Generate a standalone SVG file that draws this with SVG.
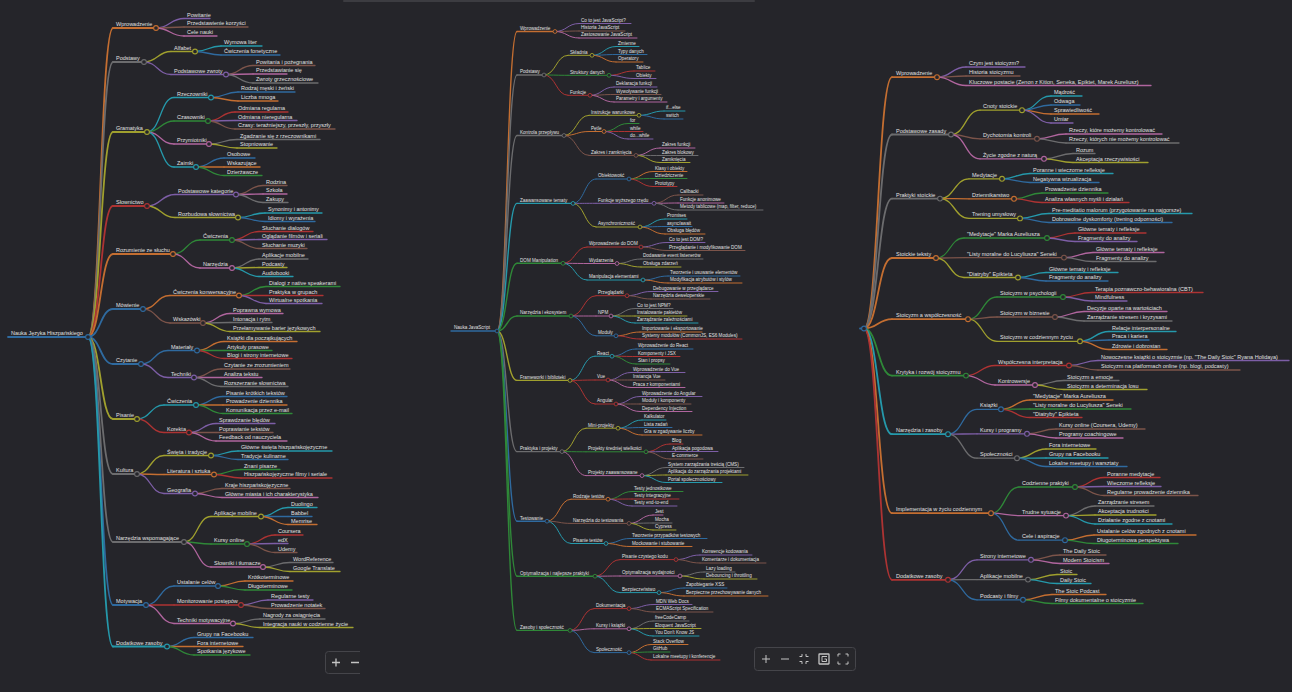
<svg xmlns="http://www.w3.org/2000/svg" width="1292" height="692" viewBox="0 0 1292 692">
<style>
.bl{stroke:#2f6a9f}.or{stroke:#c46e31}.gr{stroke:#2f8838}.rd{stroke:#ad3333}.pu{stroke:#7d5ea6}.br{stroke:#7c544a}.pk{stroke:#b0659e}.gy{stroke:#6c6c6e}.ol{stroke:#a0a02e}.cy{stroke:#2599ab}
path{fill:none;stroke-width:1.3;stroke-linecap:round}
circle{fill:#25252a;stroke-width:1.1}
text{fill:#e0e0e0;stroke:none;font-family:"Liberation Sans",Arial,sans-serif;font-size:5.5px}
#mid text{font-size:4.6px}
#mid path{stroke-width:1}
.t{stroke-width:1.8}
#mid .t{stroke-width:1.4}
#mid circle{stroke-width:0.9}
.ctl rect{fill:#27272b;stroke:#45454a;stroke-width:1}
.ctl path{stroke:#c4c4c4;stroke-width:1.3;stroke-linecap:butt}
</style>
<defs><clipPath id="clipL"><rect x="0" y="0" width="360" height="692"/></clipPath></defs>
<rect x="0" y="0" width="1292" height="692" fill="#25252a"/>
<rect x="343" y="0" width="412" height="2" rx="1" fill="#3c3c41"/>

<g id="left">
<g id="left-connectors">
<path class="or t" d="M88 337C100.5 337 100.5 28 113 28"/>
<path class="gy t" d="M88 337C100.5 337 100.5 62 113 62"/>
<path class="ol t" d="M88 337C100.5 337 100.5 132 113 132"/>
<path class="rd t" d="M88 337C100.5 337 100.5 206 113 206"/>
<path class="or t" d="M88 337C100.5 337 100.5 254 113 254"/>
<path class="bl t" d="M88 337C100.5 337 100.5 309 113 309"/>
<path class="bl t" d="M88 337C100.5 337 100.5 364 113 364"/>
<path class="ol t" d="M88 337C100.5 337 100.5 419 113 419"/>
<path class="gy t" d="M88 337C100.5 337 100.5 474 113 474"/>
<path class="gy t" d="M88 337C100.5 337 100.5 542 113 542"/>
<path class="bl t" d="M88 337C100.5 337 100.5 605 113 605"/>
<path class="cy t" d="M88 337C100.5 337 100.5 646.5 113 646.5"/>
<path class="pu" d="M156 28C170 28 170 18.5 184 18.5"/>
<path class="br" d="M156 28C170 28 170 27 184 27"/>
<path class="pk" d="M156 28C170 28 170 36 184 36"/>
<path class="ol" d="M144 62C157.5 62 157.5 51.5 171 51.5"/>
<path class="pu" d="M144 62C157.5 62 157.5 74.5 171 74.5"/>
<path class="cy" d="M195 51.5C208 51.5 208 46 221 46"/>
<path class="bl" d="M195 51.5C208 51.5 208 55 221 55"/>
<path class="br" d="M226 74.5C239.5 74.5 239.5 65.5 253 65.5"/>
<path class="pk" d="M226 74.5C239.5 74.5 239.5 74 253 74"/>
<path class="gy" d="M226 74.5C239.5 74.5 239.5 83 253 83"/>
<path class="cy" d="M147 132C160.5 132 160.5 97.5 174 97.5"/>
<path class="gr" d="M147 132C160.5 132 160.5 121 174 121"/>
<path class="pk" d="M147 132C160.5 132 160.5 144 174 144"/>
<path class="cy" d="M147 132C160.5 132 160.5 167 174 167"/>
<path class="bl" d="M211 97.5C224.5 97.5 224.5 92 238 92"/>
<path class="or" d="M211 97.5C224.5 97.5 224.5 101 238 101"/>
<path class="rd" d="M208 121C221.5 121 221.5 112 235 112"/>
<path class="pu" d="M208 121C221.5 121 221.5 120.5 235 120.5"/>
<path class="br" d="M208 121C221.5 121 221.5 129 235 129"/>
<path class="gy" d="M209 144C223 144 223 139.5 237 139.5"/>
<path class="ol" d="M209 144C223 144 223 148 237 148"/>
<path class="bl" d="M196 167C210 167 210 158 224 158"/>
<path class="or" d="M196 167C210 167 210 167 224 167"/>
<path class="gr" d="M196 167C210 167 210 175.5 224 175.5"/>
<path class="pu" d="M147 206C161 206 161 194.5 175 194.5"/>
<path class="ol" d="M147 206C161 206 161 217.5 175 217.5"/>
<path class="br" d="M236 194.5C249.5 194.5 249.5 185.5 263 185.5"/>
<path class="pk" d="M236 194.5C249.5 194.5 249.5 194 263 194"/>
<path class="gy" d="M236 194.5C249.5 194.5 249.5 202.5 263 202.5"/>
<path class="cy" d="M238 217.5C251.5 217.5 251.5 213 265 213"/>
<path class="bl" d="M238 217.5C251.5 217.5 251.5 221.5 265 221.5"/>
<path class="gr" d="M173 254C186.5 254 186.5 240 200 240"/>
<path class="pk" d="M173 254C186.5 254 186.5 268 200 268"/>
<path class="rd" d="M232 240C245.5 240 245.5 231.5 259 231.5"/>
<path class="pu" d="M232 240C245.5 240 245.5 239.5 259 239.5"/>
<path class="br" d="M232 240C245.5 240 245.5 248.5 259 248.5"/>
<path class="gy" d="M232 268C245.5 268 245.5 259 259 259"/>
<path class="ol" d="M232 268C245.5 268 245.5 267.5 259 267.5"/>
<path class="cy" d="M232 268C245.5 268 245.5 276.5 259 276.5"/>
<path class="or" d="M143 309C156.5 309 156.5 295.5 170 295.5"/>
<path class="br" d="M143 309C156.5 309 156.5 323 170 323"/>
<path class="gr" d="M239 295.5C252.5 295.5 252.5 286.5 266 286.5"/>
<path class="rd" d="M239 295.5C252.5 295.5 252.5 295.5 266 295.5"/>
<path class="pu" d="M239 295.5C252.5 295.5 252.5 303.5 266 303.5"/>
<path class="pk" d="M203 323C216.5 323 216.5 313.5 230 313.5"/>
<path class="gy" d="M203 323C216.5 323 216.5 322.5 230 322.5"/>
<path class="ol" d="M203 323C216.5 323 216.5 331.5 230 331.5"/>
<path class="bl" d="M141 364C154.5 364 154.5 350.5 168 350.5"/>
<path class="pu" d="M141 364C154.5 364 154.5 377.5 168 377.5"/>
<path class="or" d="M197 350.5C210.5 350.5 210.5 341.5 224 341.5"/>
<path class="gr" d="M197 350.5C210.5 350.5 210.5 350.5 224 350.5"/>
<path class="rd" d="M197 350.5C210.5 350.5 210.5 358.5 224 358.5"/>
<path class="br" d="M194 377.5C207.5 377.5 207.5 369 221 369"/>
<path class="pk" d="M194 377.5C207.5 377.5 207.5 377.5 221 377.5"/>
<path class="gy" d="M194 377.5C207.5 377.5 207.5 386.5 221 386.5"/>
<path class="cy" d="M137 419C150.5 419 150.5 405 164 405"/>
<path class="rd" d="M137 419C150.5 419 150.5 432.5 164 432.5"/>
<path class="bl" d="M196 405C209.5 405 209.5 396.5 223 396.5"/>
<path class="or" d="M196 405C209.5 405 209.5 405 223 405"/>
<path class="gr" d="M196 405C209.5 405 209.5 413.5 223 413.5"/>
<path class="pu" d="M189 432.5C202.5 432.5 202.5 423.5 216 423.5"/>
<path class="br" d="M189 432.5C202.5 432.5 202.5 432.5 216 432.5"/>
<path class="pk" d="M189 432.5C202.5 432.5 202.5 441 216 441"/>
<path class="ol" d="M137 474C150.5 474 150.5 455.5 164 455.5"/>
<path class="or" d="M137 474C150.5 474 150.5 474.5 164 474.5"/>
<path class="pu" d="M137 474C150.5 474 150.5 493.5 164 493.5"/>
<path class="cy" d="M211 455.5C224.5 455.5 224.5 451 238 451"/>
<path class="bl" d="M211 455.5C224.5 455.5 224.5 459.5 238 459.5"/>
<path class="gr" d="M214 474.5C227.5 474.5 227.5 469.5 241 469.5"/>
<path class="rd" d="M214 474.5C227.5 474.5 227.5 478 241 478"/>
<path class="br" d="M195 493.5C208.5 493.5 208.5 488.5 222 488.5"/>
<path class="pk" d="M195 493.5C208.5 493.5 208.5 497.5 222 497.5"/>
<path class="ol" d="M184 542C197.5 542 197.5 516.5 211 516.5"/>
<path class="gr" d="M184 542C197.5 542 197.5 544 211 544"/>
<path class="pk" d="M184 542C197.5 542 197.5 567 211 567"/>
<path class="cy" d="M261 516.5C274.5 516.5 274.5 507.5 288 507.5"/>
<path class="bl" d="M261 516.5C274.5 516.5 274.5 516.5 288 516.5"/>
<path class="or" d="M261 516.5C274.5 516.5 274.5 524.5 288 524.5"/>
<path class="rd" d="M247 544C261 544 261 535 275 535"/>
<path class="pu" d="M247 544C261 544 261 543.5 275 543.5"/>
<path class="br" d="M247 544C261 544 261 552.5 275 552.5"/>
<path class="gy" d="M263 567C276.5 567 276.5 562.5 290 562.5"/>
<path class="ol" d="M263 567C276.5 567 276.5 571.5 290 571.5"/>
<path class="bl" d="M146 605C160 605 160 586 174 586"/>
<path class="rd" d="M146 605C160 605 160 605 174 605"/>
<path class="pk" d="M146 605C160 605 160 623.5 174 623.5"/>
<path class="or" d="M218 586C231.5 586 231.5 581 245 581"/>
<path class="gr" d="M218 586C231.5 586 231.5 590 245 590"/>
<path class="pu" d="M241 605C254.5 605 254.5 600 268 600"/>
<path class="br" d="M241 605C254.5 605 254.5 608.5 268 608.5"/>
<path class="gy" d="M233 623.5C246.5 623.5 246.5 619 260 619"/>
<path class="ol" d="M233 623.5C246.5 623.5 246.5 627.5 260 627.5"/>
<path class="bl" d="M167 646.5C180.5 646.5 180.5 637.5 194 637.5"/>
<path class="or" d="M167 646.5C180.5 646.5 180.5 646.5 194 646.5"/>
<path class="gr" d="M167 646.5C180.5 646.5 180.5 655 194 655"/>
</g>
<g id="L0" class="bl"><path class="t" d="M8 337H88"/><text x="11" y="335">Nauka Języka Hiszpańskiego</text><circle cx="88" cy="337" r="2.4"/></g>
<g id="L1" class="or"><path class="t" d="M113 28H156"/><text x="116" y="26">Wprowadzenie</text><circle cx="156" cy="28" r="2.4"/></g>
<g id="L1a" class="pu"><path d="M184 18.5H210"/><text x="187" y="16.5">Powitanie</text></g>
<g id="L1b" class="br"><path d="M184 27H248"/><text x="187" y="25">Przedstawienie korzyści</text></g>
<g id="L1c" class="pk"><path d="M184 36H217"/><text x="187" y="34">Cele nauki</text></g>
<g id="L2" class="gy"><path class="t" d="M113 62H144"/><text x="116" y="60">Podstawy</text><circle cx="144" cy="62" r="2.4"/></g>
<g id="L2a" class="ol"><path d="M171 51.5H195"/><text x="174" y="49.5">Alfabet</text><circle cx="195" cy="51.5" r="2.4"/></g>
<g id="L2a1" class="cy"><path d="M221 46H262"/><text x="224" y="44">Wymowa liter</text></g>
<g id="L2a2" class="bl"><path d="M221 55H280"/><text x="224" y="53">Ćwiczenia fonetyczne</text></g>
<g id="L2b" class="pu"><path d="M171 74.5H226"/><text x="174" y="72.5">Podstawowe zwroty</text><circle cx="226" cy="74.5" r="2.4"/></g>
<g id="L2b1" class="br"><path d="M253 65.5H315"/><text x="256" y="63.5">Powitania i pożegnania</text></g>
<g id="L2b2" class="pk"><path d="M253 74H287"/><text x="256" y="72">Przedstawianie się</text></g>
<g id="L2b3" class="gy"><path d="M253 83H318"/><text x="256" y="81">Zwroty grzecznościowe</text></g>
<g id="L3" class="ol"><path class="t" d="M113 132H147"/><text x="116" y="130">Gramatyka</text><circle cx="147" cy="132" r="2.4"/></g>
<g id="L3a" class="cy"><path d="M174 97.5H211"/><text x="177" y="95.5">Rzeczowniki</text><circle cx="211" cy="97.5" r="2.4"/></g>
<g id="L3a1" class="bl"><path d="M238 92H295"/><text x="241" y="90">Rodzaj męski i żeński</text></g>
<g id="L3a2" class="or"><path d="M238 101H278"/><text x="241" y="99">Liczba mnoga</text></g>
<g id="L3b" class="gr"><path d="M174 121H208"/><text x="177" y="119">Czasowniki</text><circle cx="208" cy="121" r="2.4"/></g>
<g id="L3b1" class="rd"><path d="M235 112H288"/><text x="238" y="110">Odmiana regularna</text></g>
<g id="L3b2" class="pu"><path d="M235 120.5H297"/><text x="238" y="118.5">Odmiana nieregularna</text></g>
<g id="L3b3" class="br"><path d="M235 129H335"/><text x="238" y="127">Czasy: teraźniejszy, przeszły, przyszły</text></g>
<g id="L3c" class="pk"><path d="M174 144H209"/><text x="177" y="142">Przymiotniki</text><circle cx="209" cy="144" r="2.4"/></g>
<g id="L3c1" class="gy"><path d="M237 139.5H320"/><text x="240" y="137.5">Zgadzanie się z rzeczownikami</text></g>
<g id="L3c2" class="ol"><path d="M237 148H277"/><text x="240" y="146">Stopniowanie</text></g>
<g id="L3d" class="cy"><path d="M174 167H196"/><text x="177" y="165">Zaimki</text><circle cx="196" cy="167" r="2.4"/></g>
<g id="L3d1" class="bl"><path d="M224 158H255"/><text x="227" y="156">Osobowe</text></g>
<g id="L3d2" class="or"><path d="M224 167H260"/><text x="227" y="165">Wskazujące</text></g>
<g id="L3d3" class="gr"><path d="M224 175.5H262"/><text x="227" y="173.5">Dzierżawcze</text></g>
<g id="L4" class="rd"><path class="t" d="M113 206H147"/><text x="116" y="204">Słownictwo</text><circle cx="147" cy="206" r="2.4"/></g>
<g id="L4a" class="pu"><path d="M175 194.5H236"/><text x="178" y="192.5">Podstawowe kategorie</text><circle cx="236" cy="194.5" r="2.4"/></g>
<g id="L4a1" class="br"><path d="M263 185.5H287"/><text x="266" y="183.5">Rodzina</text></g>
<g id="L4a2" class="pk"><path d="M263 194H287"/><text x="266" y="192">Szkoła</text></g>
<g id="L4a3" class="gy"><path d="M263 202.5H288"/><text x="266" y="200.5">Zakupy</text></g>
<g id="L4b" class="ol"><path d="M175 217.5H238"/><text x="178" y="215.5">Rozbudowa słownictwa</text><circle cx="238" cy="217.5" r="2.4"/></g>
<g id="L4b1" class="cy"><path d="M265 213H322"/><text x="268" y="211">Synonimy i antonimy</text></g>
<g id="L4b2" class="bl"><path d="M265 221.5H315"/><text x="268" y="219.5">Idiomy i wyrażenia</text></g>
<g id="L5" class="or"><path class="t" d="M113 254H173"/><text x="116" y="252">Rozumienie ze słuchu</text><circle cx="173" cy="254" r="2.4"/></g>
<g id="L5a" class="gr"><path d="M200 240H232"/><text x="203" y="238">Ćwiczenia</text><circle cx="232" cy="240" r="2.4"/></g>
<g id="L5a1" class="rd"><path d="M259 231.5H313"/><text x="262" y="229.5">Słuchanie dialogów</text></g>
<g id="L5a2" class="pu"><path d="M259 239.5H327"/><text x="262" y="237.5">Oglądanie filmów i seriali</text></g>
<g id="L5a3" class="br"><path d="M259 248.5H307"/><text x="262" y="246.5">Słuchanie muzyki</text></g>
<g id="L5b" class="pk"><path d="M200 268H232"/><text x="203" y="266">Narzędzia</text><circle cx="232" cy="268" r="2.4"/></g>
<g id="L5b1" class="gy"><path d="M259 259H308"/><text x="262" y="257">Aplikacje mobilne</text></g>
<g id="L5b2" class="ol"><path d="M259 267.5H287"/><text x="262" y="265.5">Podcasty</text></g>
<g id="L5b3" class="cy"><path d="M259 276.5H293"/><text x="262" y="274.5">Audiobooki</text></g>
<g id="L6" class="bl"><path class="t" d="M113 309H143"/><text x="116" y="307">Mówienie</text><circle cx="143" cy="309" r="2.4"/></g>
<g id="L6a" class="or"><path d="M170 295.5H239"/><text x="173" y="293.5">Ćwiczenia konwersacyjne</text><circle cx="239" cy="295.5" r="2.4"/></g>
<g id="L6a1" class="gr"><path d="M266 286.5H340"/><text x="269" y="284.5">Dialogi z native speakerami</text></g>
<g id="L6a2" class="rd"><path d="M266 295.5H323"/><text x="269" y="293.5">Praktyka w grupach</text></g>
<g id="L6a3" class="pu"><path d="M266 303.5H322"/><text x="269" y="301.5">Wirtualne spotkania</text></g>
<g id="L6b" class="br"><path d="M170 323H203"/><text x="173" y="321">Wskazówki</text><circle cx="203" cy="323" r="2.4"/></g>
<g id="L6b1" class="pk"><path d="M230 313.5H283"/><text x="233" y="311.5">Poprawna wymowa</text></g>
<g id="L6b2" class="gy"><path d="M230 322.5H272"/><text x="233" y="320.5">Intonacja i rytm</text></g>
<g id="L6b3" class="ol"><path d="M230 331.5H320"/><text x="233" y="329.5">Przełamywanie barier językowych</text></g>
<g id="L7" class="bl"><path class="t" d="M113 364H141"/><text x="116" y="362">Czytanie</text><circle cx="141" cy="364" r="2.4"/></g>
<g id="L7a" class="bl"><path d="M168 350.5H197"/><text x="171" y="348.5">Materiały</text><circle cx="197" cy="350.5" r="2.4"/></g>
<g id="L7a1" class="or"><path d="M224 341.5H297"/><text x="227" y="339.5">Książki dla początkujących</text></g>
<g id="L7a2" class="gr"><path d="M224 350.5H272"/><text x="227" y="348.5">Artykuły prasowe</text></g>
<g id="L7a3" class="rd"><path d="M224 358.5H292"/><text x="227" y="356.5">Blogi i strony internetowe</text></g>
<g id="L7b" class="pu"><path d="M168 377.5H194"/><text x="171" y="375.5">Techniki</text><circle cx="194" cy="377.5" r="2.4"/></g>
<g id="L7b1" class="br"><path d="M221 369H290"/><text x="224" y="367">Czytanie ze zrozumieniem</text></g>
<g id="L7b2" class="pk"><path d="M221 377.5H262"/><text x="224" y="375.5">Analiza tekstu</text></g>
<g id="L7b3" class="gy"><path d="M221 386.5H288"/><text x="224" y="384.5">Rozszerzanie słownictwa</text></g>
<g id="L8" class="ol"><path class="t" d="M113 419H137"/><text x="116" y="417">Pisanie</text><circle cx="137" cy="419" r="2.4"/></g>
<g id="L8a" class="cy"><path d="M164 405H196"/><text x="167" y="403">Ćwiczenia</text><circle cx="196" cy="405" r="2.4"/></g>
<g id="L8a1" class="bl"><path d="M223 396.5H287"/><text x="226" y="394.5">Pisanie krótkich tekstów</text></g>
<g id="L8a2" class="or"><path d="M223 405H287"/><text x="226" y="403">Prowadzenie dziennika</text></g>
<g id="L8a3" class="gr"><path d="M223 413.5H292"/><text x="226" y="411.5">Komunikacja przez e-mail</text></g>
<g id="L8b" class="rd"><path d="M164 432.5H189"/><text x="167" y="430.5">Korekta</text><circle cx="189" cy="432.5" r="2.4"/></g>
<g id="L8b1" class="pu"><path d="M216 423.5H275"/><text x="219" y="421.5">Sprawdzanie błędów</text></g>
<g id="L8b2" class="br"><path d="M216 432.5H273"/><text x="219" y="430.5">Poprawianie tekstów</text></g>
<g id="L8b3" class="pk"><path d="M216 441H287"/><text x="219" y="439">Feedback od nauczyciela</text></g>
<g id="L9" class="gy"><path class="t" d="M113 474H137"/><text x="116" y="472">Kultura</text><circle cx="137" cy="474" r="2.4"/></g>
<g id="L9a" class="ol"><path d="M164 455.5H211"/><text x="167" y="453.5">Święta i tradycje</text><circle cx="211" cy="455.5" r="2.4"/></g>
<g id="L9a1" class="cy"><path d="M238 451H332"/><text x="241" y="449">Główne święta hiszpańskojęzyczne</text></g>
<g id="L9a2" class="bl"><path d="M238 459.5H288"/><text x="241" y="457.5">Tradycje kulinarne</text></g>
<g id="L9b" class="or"><path d="M164 474.5H214"/><text x="167" y="472.5">Literatura i sztuka</text><circle cx="214" cy="474.5" r="2.4"/></g>
<g id="L9b1" class="gr"><path d="M241 469.5H280"/><text x="244" y="467.5">Znani pisarze</text></g>
<g id="L9b2" class="rd"><path d="M241 478H332"/><text x="244" y="476">Hiszpańskojęzyczne filmy i seriale</text></g>
<g id="L9c" class="pu"><path d="M164 493.5H195"/><text x="167" y="491.5">Geografia</text><circle cx="195" cy="493.5" r="2.4"/></g>
<g id="L9c1" class="br"><path d="M222 488.5H290"/><text x="225" y="486.5">Kraje hiszpańskojęzyczne</text></g>
<g id="L9c2" class="pk"><path d="M222 497.5H318"/><text x="225" y="495.5">Główne miasta i ich charakterystyka</text></g>
<g id="L10" class="gy"><path class="t" d="M113 542H184"/><text x="116" y="540">Narzędzia wspomagające</text><circle cx="184" cy="542" r="2.4"/></g>
<g id="L10a" class="ol"><path d="M211 516.5H261"/><text x="214" y="514.5">Aplikacje mobilne</text><circle cx="261" cy="516.5" r="2.4"/></g>
<g id="L10a1" class="cy"><path d="M288 507.5H317"/><text x="291" y="505.5">Duolingo</text></g>
<g id="L10a2" class="bl"><path d="M288 516.5H312"/><text x="291" y="514.5">Babbel</text></g>
<g id="L10a3" class="or"><path d="M288 524.5H317"/><text x="291" y="522.5">Memrise</text></g>
<g id="L10b" class="gr"><path d="M211 544H247"/><text x="214" y="542">Kursy online</text><circle cx="247" cy="544" r="2.4"/></g>
<g id="L10b1" class="rd"><path d="M275 535H303"/><text x="278" y="533">Coursera</text></g>
<g id="L10b2" class="pu"><path d="M275 543.5H288"/><text x="278" y="541.5">edX</text></g>
<g id="L10b3" class="br"><path d="M275 552.5H297"/><text x="278" y="550.5">Udemy</text></g>
<g id="L10c" class="pk"><path d="M211 567H263"/><text x="214" y="565">Słowniki i tłumacze</text><circle cx="263" cy="567" r="2.4"/></g>
<g id="L10c1" class="gy"><path d="M290 562.5H333"/><text x="293" y="560.5">WordReference</text></g>
<g id="L10c2" class="ol"><path d="M290 571.5H340"/><text x="293" y="569.5">Google Translate</text></g>
<g id="L11" class="bl"><path class="t" d="M113 605H146"/><text x="116" y="603">Motywacja</text><circle cx="146" cy="605" r="2.4"/></g>
<g id="L11a" class="bl"><path d="M174 586H218"/><text x="177" y="584">Ustalanie celów</text><circle cx="218" cy="586" r="2.4"/></g>
<g id="L11a1" class="or"><path d="M245 581H293"/><text x="248" y="579">Krótkoterminowe</text></g>
<g id="L11a2" class="gr"><path d="M245 590H292"/><text x="248" y="588">Długoterminowe</text></g>
<g id="L11b" class="rd"><path d="M174 605H241"/><text x="177" y="603">Monitorowanie postępów</text><circle cx="241" cy="605" r="2.4"/></g>
<g id="L11b1" class="pu"><path d="M268 600H313"/><text x="271" y="598">Regularne testy</text></g>
<g id="L11b2" class="br"><path d="M268 608.5H325"/><text x="271" y="606.5">Prowadzenie notatek</text></g>
<g id="L11c" class="pk"><path d="M174 623.5H233"/><text x="177" y="621.5">Techniki motywacyjne</text><circle cx="233" cy="623.5" r="2.4"/></g>
<g id="L11c1" class="gy"><path d="M260 619H325"/><text x="263" y="617">Nagrody za osiągnięcia</text></g>
<g id="L11c2" class="ol"><path d="M260 627.5H353"/><text x="263" y="625.5">Integracja nauki w codzienne życie</text></g>
<g id="L12" class="cy"><path class="t" d="M113 646.5H167"/><text x="116" y="644.5">Dodatkowe zasoby</text><circle cx="167" cy="646.5" r="2.4"/></g>
<g id="L12a" class="bl"><path d="M194 637.5H253"/><text x="197" y="635.5">Grupy na Facebooku</text></g>
<g id="L12b" class="or"><path d="M194 646.5H243"/><text x="197" y="644.5">Fora internetowe</text></g>
<g id="L12c" class="gr"><path d="M194 655H250"/><text x="197" y="653">Spotkania językowe</text></g>
<g id="left-controls" class="ctl" clip-path="url(#clipL)"><rect x="325.5" y="651.5" width="60" height="22" rx="3"/><path d="M332 662.5h8M336 658.5v8M351 662.5h8"/></g>
</g>

<g id="mid">
<g id="mid-connectors">
<path class="or t" d="M497 331C507 331 507 31.5 517 31.5"/>
<path class="gy t" d="M497 331C507 331 507 75 517 75"/>
<path class="gy t" d="M497 331C507 331 507 135.5 517 135.5"/>
<path class="cy t" d="M497 331C507 331 507 203.4 517 203.4"/>
<path class="gr t" d="M497 331C507 331 507 263.3 517 263.3"/>
<path class="gr t" d="M497 331C507 331 507 316 517 316"/>
<path class="ol t" d="M497 331C507 331 507 380.4 517 380.4"/>
<path class="gy t" d="M497 331C507 331 507 451.6 517 451.6"/>
<path class="bl t" d="M497 331C507 331 507 521.2 517 521.2"/>
<path class="gr t" d="M497 331C507 331 507 576.2 517 576.2"/>
<path class="gr t" d="M497 331C507 331 507 630.4 517 630.4"/>
<path class="pu" d="M555 31.5C567 31.5 567 23.5 579 23.5"/>
<path class="br" d="M555 31.5C567 31.5 567 31 579 31"/>
<path class="pk" d="M555 31.5C567 31.5 567 38 579 38"/>
<path class="ol" d="M544 75C556 75 556 55.3 568 55.3"/>
<path class="gr" d="M544 75C556 75 556 75.3 568 75.3"/>
<path class="rd" d="M544 75C556 75 556 95.3 568 95.3"/>
<path class="cy" d="M592 55.3C604 55.3 604 46.5 616 46.5"/>
<path class="bl" d="M592 55.3C604 55.3 604 54.5 616 54.5"/>
<path class="or" d="M592 55.3C604 55.3 604 62 616 62"/>
<path class="rd" d="M609 75.3C621.5 75.3 621.5 71 634 71"/>
<path class="pu" d="M609 75.3C621.5 75.3 621.5 78.5 634 78.5"/>
<path class="pu" d="M590 95.3C602 95.3 602 87 614 87"/>
<path class="br" d="M590 95.3C602 95.3 602 94.5 614 94.5"/>
<path class="pk" d="M590 95.3C602 95.3 602 102 614 102"/>
<path class="ol" d="M564 135.5C576.5 135.5 576.5 115.3 589 115.3"/>
<path class="or" d="M564 135.5C576.5 135.5 576.5 131.5 589 131.5"/>
<path class="br" d="M564 135.5C576.5 135.5 576.5 155.4 589 155.4"/>
<path class="cy" d="M639 115.3C651.5 115.3 651.5 111 664 111"/>
<path class="bl" d="M639 115.3C651.5 115.3 651.5 119 664 119"/>
<path class="gr" d="M604 131.5C616 131.5 616 123.5 628 123.5"/>
<path class="rd" d="M604 131.5C616 131.5 616 131.5 628 131.5"/>
<path class="pu" d="M604 131.5C616 131.5 616 139 628 139"/>
<path class="pk" d="M636 155.4C648 155.4 648 148 660 148"/>
<path class="gy" d="M636 155.4C648 155.4 648 155.5 660 155.5"/>
<path class="ol" d="M636 155.4C648 155.4 648 162.5 660 162.5"/>
<path class="bl" d="M573 203.4C584.5 203.4 584.5 179 596 179"/>
<path class="pu" d="M573 203.4C584.5 203.4 584.5 203.3 596 203.3"/>
<path class="ol" d="M573 203.4C584.5 203.4 584.5 227 596 227"/>
<path class="or" d="M629 179C641 179 641 171.5 653 171.5"/>
<path class="gr" d="M629 179C641 179 641 178.5 653 178.5"/>
<path class="rd" d="M629 179C641 179 641 186.5 653 186.5"/>
<path class="br" d="M654 203.3C666 203.3 666 195 678 195"/>
<path class="pk" d="M654 203.3C666 203.3 666 203 678 203"/>
<path class="gy" d="M654 203.3C666 203.3 666 210 678 210"/>
<path class="cy" d="M640 227C652.5 227 652.5 219 665 219"/>
<path class="bl" d="M640 227C652.5 227 652.5 226.5 665 226.5"/>
<path class="or" d="M640 227C652.5 227 652.5 234 665 234"/>
<path class="rd" d="M563 263.3C575 263.3 575 247 587 247"/>
<path class="pk" d="M563 263.3C575 263.3 575 263.5 587 263.5"/>
<path class="cy" d="M563 263.3C575 263.3 575 280 587 280"/>
<path class="pu" d="M641 247C654 247 654 242.5 667 242.5"/>
<path class="br" d="M641 247C654 247 654 250.5 667 250.5"/>
<path class="gy" d="M617 263.5C629 263.5 629 259 641 259"/>
<path class="ol" d="M617 263.5C629 263.5 629 267 641 267"/>
<path class="bl" d="M643 280C655.5 280 655.5 276 668 276"/>
<path class="or" d="M643 280C655.5 280 655.5 283 668 283"/>
<path class="rd" d="M571 316C583.5 316 583.5 295.7 596 295.7"/>
<path class="pk" d="M571 316C583.5 316 583.5 316 596 316"/>
<path class="bl" d="M571 316C583.5 316 583.5 335.8 596 335.8"/>
<path class="pu" d="M627 295.7C639 295.7 639 291.5 651 291.5"/>
<path class="br" d="M627 295.7C639 295.7 639 299 651 299"/>
<path class="gy" d="M611 316C623 316 623 308.5 635 308.5"/>
<path class="ol" d="M611 316C623 316 623 316 635 316"/>
<path class="cy" d="M611 316C623 316 623 323 635 323"/>
<path class="or" d="M616 335.8C628 335.8 628 332 640 332"/>
<path class="rd" d="M616 335.8C628 335.8 628 339 640 339"/>
<path class="cy" d="M570 380.4C582.5 380.4 582.5 356.2 595 356.2"/>
<path class="rd" d="M570 380.4C582.5 380.4 582.5 380 595 380"/>
<path class="rd" d="M570 380.4C582.5 380.4 582.5 404 595 404"/>
<path class="bl" d="M612 356.2C624 356.2 624 349 636 349"/>
<path class="rd" d="M612 356.2C624 356.2 624 356.5 636 356.5"/>
<path class="gr" d="M612 356.2C624 356.2 624 364 636 364"/>
<path class="pu" d="M608 380C619.5 380 619.5 372.5 631 372.5"/>
<path class="br" d="M608 380C619.5 380 619.5 380 631 380"/>
<path class="pk" d="M608 380C619.5 380 619.5 387.5 631 387.5"/>
<path class="pu" d="M616 404C628 404 628 396.5 640 396.5"/>
<path class="br" d="M616 404C628 404 628 404 640 404"/>
<path class="pk" d="M616 404C628 404 628 411.5 640 411.5"/>
<path class="ol" d="M562 451.6C574 451.6 574 428.2 586 428.2"/>
<path class="gr" d="M562 451.6C574 451.6 574 451.8 586 451.8"/>
<path class="pk" d="M562 451.6C574 451.6 574 475.6 586 475.6"/>
<path class="cy" d="M618 428.2C630 428.2 630 420 642 420"/>
<path class="bl" d="M618 428.2C630 428.2 630 427.5 642 427.5"/>
<path class="or" d="M618 428.2C630 428.2 630 435 642 435"/>
<path class="rd" d="M646 451.8C658 451.8 658 444 670 444"/>
<path class="pu" d="M646 451.8C658 451.8 658 451.5 670 451.5"/>
<path class="br" d="M646 451.8C658 451.8 658 459 670 459"/>
<path class="gy" d="M642 475.6C654 475.6 654 467.5 666 467.5"/>
<path class="ol" d="M642 475.6C654 475.6 654 475 666 475"/>
<path class="cy" d="M642 475.6C654 475.6 654 482.5 666 482.5"/>
<path class="or" d="M547 521.2C559 521.2 559 499.2 571 499.2"/>
<path class="br" d="M547 521.2C559 521.2 559 523.4 571 523.4"/>
<path class="cy" d="M547 521.2C559 521.2 559 543.5 571 543.5"/>
<path class="gr" d="M608 499.2C620 499.2 620 491.5 632 491.5"/>
<path class="rd" d="M608 499.2C620 499.2 620 499 632 499"/>
<path class="pu" d="M608 499.2C620 499.2 620 506 632 506"/>
<path class="pk" d="M629 523.4C641 523.4 641 515 653 515"/>
<path class="gy" d="M629 523.4C641 523.4 641 523 653 523"/>
<path class="ol" d="M629 523.4C641 523.4 641 530 653 530"/>
<path class="bl" d="M606 543.5C618 543.5 618 538.5 630 538.5"/>
<path class="or" d="M606 543.5C618 543.5 618 546.5 630 546.5"/>
<path class="rd" d="M595 576.2C607.5 576.2 607.5 559.6 620 559.6"/>
<path class="pk" d="M595 576.2C607.5 576.2 607.5 576 620 576"/>
<path class="cy" d="M595 576.2C607.5 576.2 607.5 592.6 620 592.6"/>
<path class="pu" d="M676 559.6C688 559.6 688 555 700 555"/>
<path class="br" d="M676 559.6C688 559.6 688 563 700 563"/>
<path class="gy" d="M680 576C692 576 692 572 704 572"/>
<path class="ol" d="M680 576C692 576 692 579 704 579"/>
<path class="bl" d="M659 592.6C671.5 592.6 671.5 588 684 588"/>
<path class="or" d="M659 592.6C671.5 592.6 671.5 596 684 596"/>
<path class="rd" d="M570 630.4C582 630.4 582 608.6 594 608.6"/>
<path class="pk" d="M570 630.4C582 630.4 582 628.8 594 628.8"/>
<path class="bl" d="M570 630.4C582 630.4 582 652.6 594 652.6"/>
<path class="pu" d="M629 608.6C641.5 608.6 641.5 604.5 654 604.5"/>
<path class="br" d="M629 608.6C641.5 608.6 641.5 612 654 612"/>
<path class="gy" d="M629 628.8C641 628.8 641 621 653 621"/>
<path class="ol" d="M629 628.8C641 628.8 641 628.5 653 628.5"/>
<path class="cy" d="M629 628.8C641 628.8 641 636 653 636"/>
<path class="or" d="M629 652.6C640 652.6 640 644.5 651 644.5"/>
<path class="gr" d="M629 652.6C640 652.6 640 652 651 652"/>
<path class="rd" d="M629 652.6C640 652.6 640 660 651 660"/>
</g>
<g id="M0" class="bl"><path class="t" d="M451 331H497"/><text x="454" y="329.4">Nauka JavaScript</text><circle cx="497" cy="331" r="1.9"/></g>
<g id="M1" class="or"><path class="t" d="M517 31.5H555"/><text x="520" y="29.9">Wprowadzenie</text><circle cx="555" cy="31.5" r="1.9"/></g>
<g id="M1a" class="pu"><path d="M579 23.5H631"/><text x="581" y="21.9">Co to jest JavaScript?</text></g>
<g id="M1b" class="br"><path d="M579 31H625"/><text x="581" y="29.4">Historia JavaScript</text></g>
<g id="M1c" class="pk"><path d="M579 38H637"/><text x="581" y="36.4">Zastosowanie JavaScript</text></g>
<g id="M2" class="gy"><path class="t" d="M517 75H544"/><text x="520" y="73.4">Podstawy</text><circle cx="544" cy="75" r="1.9"/></g>
<g id="M2a" class="ol"><path d="M568 55.3H592"/><text x="570" y="53.7">Składnia</text><circle cx="592" cy="55.3" r="1.9"/></g>
<g id="M2a1" class="cy"><path d="M616 46.5H639"/><text x="618" y="44.9">Zmienne</text></g>
<g id="M2a2" class="bl"><path d="M616 54.5H647"/><text x="618" y="52.9">Typy danych</text></g>
<g id="M2a3" class="or"><path d="M616 62H643"/><text x="618" y="60.4">Operatory</text></g>
<g id="M2b" class="gr"><path d="M568 75.3H609"/><text x="570" y="73.7">Struktury danych</text><circle cx="609" cy="75.3" r="1.9"/></g>
<g id="M2b1" class="rd"><path d="M634 71H655"/><text x="636" y="69.4">Tablice</text></g>
<g id="M2b2" class="pu"><path d="M634 78.5H656"/><text x="636" y="76.9">Obiekty</text></g>
<g id="M2c" class="rd"><path d="M568 95.3H590"/><text x="570" y="93.7">Funkcje</text><circle cx="590" cy="95.3" r="1.9"/></g>
<g id="M2c1" class="pu"><path d="M614 87H657"/><text x="616" y="85.4">Deklaracja funkcji</text></g>
<g id="M2c2" class="br"><path d="M614 94.5H661"/><text x="616" y="92.9">Wywoływanie funkcji</text></g>
<g id="M2c3" class="pk"><path d="M614 102H667"/><text x="616" y="100.4">Parametry i argumenty</text></g>
<g id="M3" class="gy"><path class="t" d="M517 135.5H564"/><text x="520" y="133.9">Kontrola przepływu</text><circle cx="564" cy="135.5" r="1.9"/></g>
<g id="M3a" class="ol"><path d="M589 115.3H639"/><text x="591" y="113.7">Instrukcje warunkowe</text><circle cx="639" cy="115.3" r="1.9"/></g>
<g id="M3a1" class="cy"><path d="M664 111H685"/><text x="666" y="109.4">if...else</text></g>
<g id="M3a2" class="bl"><path d="M664 119H683"/><text x="666" y="117.4">switch</text></g>
<g id="M3b" class="or"><path d="M589 131.5H604"/><text x="591" y="129.9">Pętle</text><circle cx="604" cy="131.5" r="1.9"/></g>
<g id="M3b1" class="gr"><path d="M628 123.5H639"/><text x="630" y="121.9">for</text></g>
<g id="M3b2" class="rd"><path d="M628 131.5H643"/><text x="630" y="129.9">while</text></g>
<g id="M3b3" class="pu"><path d="M628 139H653"/><text x="630" y="137.4">do...while</text></g>
<g id="M3c" class="br"><path d="M589 155.4H636"/><text x="591" y="153.8">Zakres i zamknięcia</text><circle cx="636" cy="155.4" r="1.9"/></g>
<g id="M3c1" class="pk"><path d="M660 148H695"/><text x="662" y="146.4">Zakres funkcji</text></g>
<g id="M3c2" class="gy"><path d="M660 155.5H698"/><text x="662" y="153.9">Zakres blokowy</text></g>
<g id="M3c3" class="ol"><path d="M660 162.5H690"/><text x="662" y="160.9">Zamknięcia</text></g>
<g id="M4" class="cy"><path class="t" d="M517 203.4H573"/><text x="520" y="201.8">Zaawansowane tematy</text><circle cx="573" cy="203.4" r="1.9"/></g>
<g id="M4a" class="bl"><path d="M596 179H629"/><text x="598" y="177.4">Obiektowość</text><circle cx="629" cy="179" r="1.9"/></g>
<g id="M4a1" class="or"><path d="M653 171.5H687"/><text x="655" y="169.9">Klasy i obiekty</text></g>
<g id="M4a2" class="gr"><path d="M653 178.5H687"/><text x="655" y="176.9">Dziedziczenie</text></g>
<g id="M4a3" class="rd"><path d="M653 186.5H677"/><text x="655" y="184.9">Prototypy</text></g>
<g id="M4b" class="pu"><path d="M596 203.3H654"/><text x="598" y="201.7">Funkcje wyższego rzędu</text><circle cx="654" cy="203.3" r="1.9"/></g>
<g id="M4b1" class="br"><path d="M678 195H703"/><text x="680" y="193.4">Callbacki</text></g>
<g id="M4b2" class="pk"><path d="M678 203H724"/><text x="680" y="201.4">Funkcje anonimowe</text></g>
<g id="M4b3" class="gy"><path d="M678 210H763"/><text x="680" y="208.4">Metody tablicowe (map, filter, reduce)</text></g>
<g id="M4c" class="ol"><path d="M596 227H640"/><text x="598" y="225.4">Asynchroniczność</text><circle cx="640" cy="227" r="1.9"/></g>
<g id="M4c1" class="cy"><path d="M665 219H687"/><text x="667" y="217.4">Promises</text></g>
<g id="M4c2" class="bl"><path d="M665 226.5H692"/><text x="667" y="224.9">async/await</text></g>
<g id="M4c3" class="or"><path d="M665 234H705"/><text x="667" y="232.4">Obsługa błędów</text></g>
<g id="M5" class="gr"><path class="t" d="M517 263.3H563"/><text x="520" y="261.7">DOM Manipulation</text><circle cx="563" cy="263.3" r="1.9"/></g>
<g id="M5a" class="rd"><path d="M587 247H641"/><text x="589" y="245.4">Wprowadzenie do DOM</text><circle cx="641" cy="247" r="1.9"/></g>
<g id="M5a1" class="pu"><path d="M667 242.5H705"/><text x="669" y="240.9">Co to jest DOM?</text></g>
<g id="M5a2" class="br"><path d="M667 250.5H745"/><text x="669" y="248.9">Przeglądanie i modyfikowanie DOM</text></g>
<g id="M5b" class="pk"><path d="M587 263.5H617"/><text x="589" y="261.9">Wydarzenia</text><circle cx="617" cy="263.5" r="1.9"/></g>
<g id="M5b1" class="gy"><path d="M641 259H703"/><text x="643" y="257.4">Dodawanie event listenerów</text></g>
<g id="M5b2" class="ol"><path d="M641 267H681"/><text x="643" y="265.4">Obsługa zdarzeń</text></g>
<g id="M5c" class="cy"><path d="M587 280H643"/><text x="589" y="278.4">Manipulacja elementami</text><circle cx="643" cy="280" r="1.9"/></g>
<g id="M5c1" class="bl"><path d="M668 276H740"/><text x="670" y="274.4">Tworzenie i usuwanie elementów</text></g>
<g id="M5c2" class="or"><path d="M668 283H742"/><text x="670" y="281.4">Modyfikacja atrybutów i stylów</text></g>
<g id="M6" class="gr"><path class="t" d="M517 316H571"/><text x="520" y="314.4">Narzędzia i ekosystem</text><circle cx="571" cy="316" r="1.9"/></g>
<g id="M6a" class="rd"><path d="M596 295.7H627"/><text x="598" y="294.1">Przeglądarki</text><circle cx="627" cy="295.7" r="1.9"/></g>
<g id="M6a1" class="pu"><path d="M651 291.5H718"/><text x="653" y="289.9">Debugowanie w przeglądarce</text></g>
<g id="M6a2" class="br"><path d="M651 299H710"/><text x="653" y="297.4">Narzędzia deweloperskie</text></g>
<g id="M6b" class="pk"><path d="M596 316H611"/><text x="598" y="314.4">NPM</text><circle cx="611" cy="316" r="1.9"/></g>
<g id="M6b1" class="gy"><path d="M635 308.5H673"/><text x="637" y="306.9">Co to jest NPM?</text></g>
<g id="M6b2" class="ol"><path d="M635 316H687"/><text x="637" y="314.4">Instalowanie pakietów</text></g>
<g id="M6b3" class="cy"><path d="M635 323H698"/><text x="637" y="321.4">Zarządzanie zależnościami</text></g>
<g id="M6c" class="bl"><path d="M596 335.8H616"/><text x="598" y="334.2">Moduły</text><circle cx="616" cy="335.8" r="1.9"/></g>
<g id="M6c1" class="or"><path d="M640 332H702"/><text x="642" y="330.4">Importowanie i eksportowanie</text></g>
<g id="M6c2" class="rd"><path d="M640 339H742"/><text x="642" y="337.4">Systemy modułów (CommonJS, ES6 Modules)</text></g>
<g id="M7" class="ol"><path class="t" d="M517 380.4H570"/><text x="520" y="378.8">Frameworki i biblioteki</text><circle cx="570" cy="380.4" r="1.9"/></g>
<g id="M7a" class="cy"><path d="M595 356.2H612"/><text x="597" y="354.6">React</text><circle cx="612" cy="356.2" r="1.9"/></g>
<g id="M7a1" class="bl"><path d="M636 349H693"/><text x="638" y="347.4">Wprowadzenie do React</text></g>
<g id="M7a2" class="rd"><path d="M636 356.5H680"/><text x="638" y="354.9">Komponenty i JSX</text></g>
<g id="M7a3" class="gr"><path d="M636 364H670"/><text x="638" y="362.4">Stan i propsy</text></g>
<g id="M7b" class="rd"><path d="M595 380H608"/><text x="597" y="378.4">Vue</text><circle cx="608" cy="380" r="1.9"/></g>
<g id="M7b1" class="pu"><path d="M631 372.5H685"/><text x="633" y="370.9">Wprowadzenie do Vue</text></g>
<g id="M7b2" class="br"><path d="M631 380H665"/><text x="633" y="378.4">Instancja Vue</text></g>
<g id="M7b3" class="pk"><path d="M631 387.5H685"/><text x="633" y="385.9">Praca z komponentami</text></g>
<g id="M7c" class="rd"><path d="M595 404H616"/><text x="597" y="402.4">Angular</text><circle cx="616" cy="404" r="1.9"/></g>
<g id="M7c1" class="pu"><path d="M640 396.5H702"/><text x="642" y="394.9">Wprowadzenie do Angular</text></g>
<g id="M7c2" class="br"><path d="M640 404H691"/><text x="642" y="402.4">Moduły i komponenty</text></g>
<g id="M7c3" class="pk"><path d="M640 411.5H692"/><text x="642" y="409.9">Dependency Injection</text></g>
<g id="M8" class="gy"><path class="t" d="M517 451.6H562"/><text x="520" y="450">Praktyka i projekty</text><circle cx="562" cy="451.6" r="1.9"/></g>
<g id="M8a" class="ol"><path d="M586 428.2H618"/><text x="588" y="426.6">Mini-projekty</text><circle cx="618" cy="428.2" r="1.9"/></g>
<g id="M8a1" class="cy"><path d="M642 420H666"/><text x="644" y="418.4">Kalkulator</text></g>
<g id="M8a2" class="bl"><path d="M642 427.5H672"/><text x="644" y="425.9">Lista zadań</text></g>
<g id="M8a3" class="or"><path d="M642 435H702"/><text x="644" y="433.4">Gra w zgadywanie liczby</text></g>
<g id="M8b" class="gr"><path d="M586 451.8H646"/><text x="588" y="450.2">Projekty średniej wielkości</text><circle cx="646" cy="451.8" r="1.9"/></g>
<g id="M8b1" class="rd"><path d="M670 444H683"/><text x="672" y="442.4">Blog</text></g>
<g id="M8b2" class="pu"><path d="M670 451.5H718"/><text x="672" y="449.9">Aplikacja pogodowa</text></g>
<g id="M8b3" class="br"><path d="M670 459H703"/><text x="672" y="457.4">E-commerce</text></g>
<g id="M8c" class="pk"><path d="M586 475.6H642"/><text x="588" y="474">Projekty zaawansowane</text><circle cx="642" cy="475.6" r="1.9"/></g>
<g id="M8c1" class="gy"><path d="M666 467.5H744"/><text x="668" y="465.9">System zarządzania treścią (CMS)</text></g>
<g id="M8c2" class="ol"><path d="M666 475H748"/><text x="668" y="473.4">Aplikacja do zarządzania projektami</text></g>
<g id="M8c3" class="cy"><path d="M666 482.5H722"/><text x="668" y="480.9">Portal społecznościowy</text></g>
<g id="M9" class="bl"><path class="t" d="M517 521.2H547"/><text x="520" y="519.6">Testowanie</text><circle cx="547" cy="521.2" r="1.9"/></g>
<g id="M9a" class="or"><path d="M571 499.2H608"/><text x="573" y="497.6">Rodzaje testów</text><circle cx="608" cy="499.2" r="1.9"/></g>
<g id="M9a1" class="gr"><path d="M632 491.5H683"/><text x="634" y="489.9">Testy jednostkowe</text></g>
<g id="M9a2" class="rd"><path d="M632 499H679"/><text x="634" y="497.4">Testy integracyjne</text></g>
<g id="M9a3" class="pu"><path d="M632 506H677"/><text x="634" y="504.4">Testy end-to-end</text></g>
<g id="M9b" class="br"><path d="M571 523.4H629"/><text x="573" y="521.8">Narzędzia do testowania</text><circle cx="629" cy="523.4" r="1.9"/></g>
<g id="M9b1" class="pk"><path d="M653 515H663"/><text x="655" y="513.4">Jest</text></g>
<g id="M9b2" class="gy"><path d="M653 523H672"/><text x="655" y="521.4">Mocha</text></g>
<g id="M9b3" class="ol"><path d="M653 530H676"/><text x="655" y="528.4">Cypress</text></g>
<g id="M9c" class="cy"><path d="M571 543.5H606"/><text x="573" y="541.9">Pisanie testów</text><circle cx="606" cy="543.5" r="1.9"/></g>
<g id="M9c1" class="bl"><path d="M630 538.5H707"/><text x="632" y="536.9">Tworzenie przypadków testowych</text></g>
<g id="M9c2" class="or"><path d="M630 546.5H692"/><text x="632" y="544.9">Mockowanie i stubowanie</text></g>
<g id="M10" class="gr"><path class="t" d="M517 576.2H595"/><text x="520" y="574.6">Optymalizacja i najlepsze praktyki</text><circle cx="595" cy="576.2" r="1.9"/></g>
<g id="M10a" class="rd"><path d="M620 559.6H676"/><text x="622" y="558">Pisanie czystego kodu</text><circle cx="676" cy="559.6" r="1.9"/></g>
<g id="M10a1" class="pu"><path d="M700 555H752"/><text x="702" y="553.4">Konwencje kodowania</text></g>
<g id="M10a2" class="br"><path d="M700 563H766"/><text x="702" y="561.4">Komentarze i dokumentacja</text></g>
<g id="M10b" class="pk"><path d="M620 576H680"/><text x="622" y="574.4">Optymalizacja wydajności</text><circle cx="680" cy="576" r="1.9"/></g>
<g id="M10b1" class="gy"><path d="M704 572H735"/><text x="706" y="570.4">Lazy loading</text></g>
<g id="M10b2" class="ol"><path d="M704 579H757"/><text x="706" y="577.4">Debouncing i throttling</text></g>
<g id="M10c" class="cy"><path d="M620 592.6H659"/><text x="622" y="591">Bezpieczeństwo</text><circle cx="659" cy="592.6" r="1.9"/></g>
<g id="M10c1" class="bl"><path d="M684 588H727"/><text x="686" y="586.4">Zapobieganie XSS</text></g>
<g id="M10c2" class="or"><path d="M684 596H768"/><text x="686" y="594.4">Bezpieczne przechowywanie danych</text></g>
<g id="M11" class="gr"><path class="t" d="M517 630.4H570"/><text x="520" y="628.8">Zasoby i społeczność</text><circle cx="570" cy="630.4" r="1.9"/></g>
<g id="M11a" class="rd"><path d="M594 608.6H629"/><text x="596" y="607">Dokumentacja</text><circle cx="629" cy="608.6" r="1.9"/></g>
<g id="M11a1" class="pu"><path d="M654 604.5H692"/><text x="656" y="602.9">MDN Web Docs</text></g>
<g id="M11a2" class="br"><path d="M654 612H713"/><text x="656" y="610.4">ECMAScript Specification</text></g>
<g id="M11b" class="pk"><path d="M594 628.8H629"/><text x="596" y="627.2">Kursy i książki</text><circle cx="629" cy="628.8" r="1.9"/></g>
<g id="M11b1" class="gy"><path d="M653 621H689"/><text x="655" y="619.4">freeCodeCamp</text></g>
<g id="M11b2" class="ol"><path d="M653 628.5H701"/><text x="655" y="626.9">Eloquent JavaScript</text></g>
<g id="M11b3" class="cy"><path d="M653 636H699"/><text x="655" y="634.4">You Don't Know JS</text></g>
<g id="M11c" class="bl"><path d="M594 652.6H629"/><text x="596" y="651">Społeczność</text><circle cx="629" cy="652.6" r="1.9"/></g>
<g id="M11c1" class="or"><path d="M651 644.5H688"/><text x="653" y="642.9">Stack Overflow</text></g>
<g id="M11c2" class="gr"><path d="M651 652H670"/><text x="653" y="650.4">GitHub</text></g>
<g id="M11c3" class="rd"><path d="M651 660H720"/><text x="653" y="658.4">Lokalne meetupy i konferencje</text></g>
<g id="mid-controls" class="ctl"><rect x="754.5" y="647.5" width="101" height="23" rx="3"/><path d="M762 659h8M766 655v8M781 659h8M799.5 656.5h2.5v-2.5M806 654v2.5h2.5M799.5 661.5h2.5v2.5M806 664v-2.5h2.5M838 656.5v-2.5h2.5M845.5 654h2.5v2.5M838 661.5v2.5h2.5M848 661.5v2.5h-2.5"/><rect x="819" y="654" width="10" height="10" rx="0.5" style="fill:none;stroke:#c4c4c4;stroke-width:1.3"/><path d="M827 656.5h-5v5h4.5v-2.5h-2"/></g>
</g>

<g id="right">
<g id="right-connectors">
<path class="or t" d="M864 328.5C878 328.5 878 77.2 892 77.2"/>
<path class="gy t" d="M864 328.5C878 328.5 878 134.5 892 134.5"/>
<path class="gy t" d="M864 328.5C878 328.5 878 198.6 892 198.6"/>
<path class="or t" d="M864 328.5C878 328.5 878 258 892 258"/>
<path class="or t" d="M864 328.5C878 328.5 878 319.2 892 319.2"/>
<path class="gr t" d="M864 328.5C878 328.5 878 375.6 892 375.6"/>
<path class="cy t" d="M864 328.5C878 328.5 878 434.2 892 434.2"/>
<path class="or t" d="M864 328.5C878 328.5 878 513.2 892 513.2"/>
<path class="rd t" d="M864 328.5C878 328.5 878 579.8 892 579.8"/>
<path class="pu" d="M937 77.2C951.5 77.2 951.5 67 966 67"/>
<path class="br" d="M937 77.2C951.5 77.2 951.5 76 966 76"/>
<path class="pk" d="M937 77.2C951.5 77.2 951.5 85.5 966 85.5"/>
<path class="ol" d="M951 134.5C965.5 134.5 965.5 110.2 980 110.2"/>
<path class="br" d="M951 134.5C965.5 134.5 965.5 138.8 980 138.8"/>
<path class="pk" d="M951 134.5C965.5 134.5 965.5 158.8 980 158.8"/>
<path class="cy" d="M1022 110.2C1036.5 110.2 1036.5 96 1051 96"/>
<path class="bl" d="M1022 110.2C1036.5 110.2 1036.5 105 1051 105"/>
<path class="or" d="M1022 110.2C1036.5 110.2 1036.5 114 1051 114"/>
<path class="pu" d="M1022 110.2C1036.5 110.2 1036.5 123 1051 123"/>
<path class="pk" d="M1037 138.8C1051.5 138.8 1051.5 134 1066 134"/>
<path class="gy" d="M1037 138.8C1051.5 138.8 1051.5 143 1066 143"/>
<path class="gy" d="M1044 158.8C1058.5 158.8 1058.5 153.5 1073 153.5"/>
<path class="ol" d="M1044 158.8C1058.5 158.8 1058.5 162.5 1073 162.5"/>
<path class="ol" d="M940 198.6C954.5 198.6 954.5 178.8 969 178.8"/>
<path class="or" d="M940 198.6C954.5 198.6 954.5 198.8 969 198.8"/>
<path class="ol" d="M940 198.6C954.5 198.6 954.5 218.4 969 218.4"/>
<path class="cy" d="M1002 178.8C1016 178.8 1016 173.5 1030 173.5"/>
<path class="bl" d="M1002 178.8C1016 178.8 1016 182.5 1030 182.5"/>
<path class="gr" d="M1014 198.8C1028 198.8 1028 193 1042 193"/>
<path class="rd" d="M1014 198.8C1028 198.8 1028 202.5 1042 202.5"/>
<path class="cy" d="M1020 218.4C1034.5 218.4 1034.5 213.5 1049 213.5"/>
<path class="bl" d="M1020 218.4C1034.5 218.4 1034.5 222.5 1049 222.5"/>
<path class="gr" d="M936 258C950 258 950 238 964 238"/>
<path class="br" d="M936 258C950 258 950 257.6 964 257.6"/>
<path class="ol" d="M936 258C950 258 950 277.5 964 277.5"/>
<path class="rd" d="M1047 238C1061 238 1061 233 1075 233"/>
<path class="pu" d="M1047 238C1061 238 1061 241.5 1075 241.5"/>
<path class="pk" d="M1064 257.6C1078.5 257.6 1078.5 252.5 1093 252.5"/>
<path class="gy" d="M1064 257.6C1078.5 257.6 1078.5 261.5 1093 261.5"/>
<path class="cy" d="M1018 277.5C1032 277.5 1032 272.5 1046 272.5"/>
<path class="bl" d="M1018 277.5C1032 277.5 1032 281 1046 281"/>
<path class="gr" d="M968 319.2C982.5 319.2 982.5 297 997 297"/>
<path class="br" d="M968 319.2C982.5 319.2 982.5 317 997 317"/>
<path class="ol" d="M968 319.2C982.5 319.2 982.5 341.3 997 341.3"/>
<path class="rd" d="M1063 297C1077.5 297 1077.5 292.5 1092 292.5"/>
<path class="pu" d="M1063 297C1077.5 297 1077.5 301 1092 301"/>
<path class="pk" d="M1055 317C1069.5 317 1069.5 311.5 1084 311.5"/>
<path class="gy" d="M1055 317C1069.5 317 1069.5 321 1084 321"/>
<path class="cy" d="M1080 341.3C1094.5 341.3 1094.5 331.5 1109 331.5"/>
<path class="bl" d="M1080 341.3C1094.5 341.3 1094.5 340 1109 340"/>
<path class="or" d="M1080 341.3C1094.5 341.3 1094.5 349.5 1109 349.5"/>
<path class="rd" d="M966 375.6C980.5 375.6 980.5 365.5 995 365.5"/>
<path class="pk" d="M966 375.6C980.5 375.6 980.5 385 995 385"/>
<path class="pu" d="M1069 365.5C1083.5 365.5 1083.5 360.5 1098 360.5"/>
<path class="br" d="M1069 365.5C1083.5 365.5 1083.5 370 1098 370"/>
<path class="gy" d="M1035 385C1049.5 385 1049.5 380.5 1064 380.5"/>
<path class="ol" d="M1035 385C1049.5 385 1049.5 389.5 1064 389.5"/>
<path class="bl" d="M948 434.2C962.5 434.2 962.5 409.3 977 409.3"/>
<path class="pu" d="M948 434.2C962.5 434.2 962.5 433.8 977 433.8"/>
<path class="gy" d="M948 434.2C962.5 434.2 962.5 458.2 977 458.2"/>
<path class="or" d="M1001 409.3C1015.5 409.3 1015.5 400 1030 400"/>
<path class="gr" d="M1001 409.3C1015.5 409.3 1015.5 409 1030 409"/>
<path class="rd" d="M1001 409.3C1015.5 409.3 1015.5 417.5 1030 417.5"/>
<path class="br" d="M1027 433.8C1041.5 433.8 1041.5 429 1056 429"/>
<path class="pk" d="M1027 433.8C1041.5 433.8 1041.5 438 1056 438"/>
<path class="ol" d="M1017 458.2C1031.5 458.2 1031.5 449 1046 449"/>
<path class="cy" d="M1017 458.2C1031.5 458.2 1031.5 458 1046 458"/>
<path class="bl" d="M1017 458.2C1031.5 458.2 1031.5 466.5 1046 466.5"/>
<path class="gr" d="M991 513.2C1005 513.2 1005 487 1019 487"/>
<path class="pk" d="M991 513.2C1005 513.2 1005 515.6 1019 515.6"/>
<path class="bl" d="M991 513.2C1005 513.2 1005 540.2 1019 540.2"/>
<path class="rd" d="M1075 487C1089.5 487 1089.5 477.5 1104 477.5"/>
<path class="pu" d="M1075 487C1089.5 487 1089.5 486.5 1104 486.5"/>
<path class="br" d="M1075 487C1089.5 487 1089.5 495.5 1104 495.5"/>
<path class="gy" d="M1066 515.6C1080.5 515.6 1080.5 506 1095 506"/>
<path class="ol" d="M1066 515.6C1080.5 515.6 1080.5 515 1095 515"/>
<path class="cy" d="M1066 515.6C1080.5 515.6 1080.5 524 1095 524"/>
<path class="or" d="M1065 540.2C1079.5 540.2 1079.5 535 1094 535"/>
<path class="gr" d="M1065 540.2C1079.5 540.2 1079.5 543.5 1094 543.5"/>
<path class="pu" d="M948 579.8C962.5 579.8 962.5 559.8 977 559.8"/>
<path class="gy" d="M948 579.8C962.5 579.8 962.5 579.6 977 579.6"/>
<path class="bl" d="M948 579.8C962.5 579.8 962.5 599.8 977 599.8"/>
<path class="br" d="M1031 559.8C1045.5 559.8 1045.5 555 1060 555"/>
<path class="pk" d="M1031 559.8C1045.5 559.8 1045.5 563.5 1060 563.5"/>
<path class="ol" d="M1028 579.6C1042.5 579.6 1042.5 574.5 1057 574.5"/>
<path class="cy" d="M1028 579.6C1042.5 579.6 1042.5 583.5 1057 583.5"/>
<path class="or" d="M1023 599.8C1037.5 599.8 1037.5 594.5 1052 594.5"/>
<path class="gr" d="M1023 599.8C1037.5 599.8 1037.5 603.5 1052 603.5"/>
</g>
<g id="R0" class="bl"><path class="t" d="M860 328.5H864"/><circle cx="864" cy="328.5" r="2.4"/></g>
<g id="R1" class="or"><path class="t" d="M892 77.2H937"/><text x="896" y="75.2">Wprowadzenie</text><circle cx="937" cy="77.2" r="2.4"/></g>
<g id="R1a" class="pu"><path d="M966 67H1025"/><text x="969" y="65">Czym jest stoicyzm?</text></g>
<g id="R1b" class="br"><path d="M966 76H1020"/><text x="969" y="74">Historia stoicyzmu</text></g>
<g id="R1c" class="pk"><path d="M966 85.5H1151"/><text x="969" y="83.5">Kluczowe postacie (Zenon z Kition, Seneka, Epiktet, Marek Aureliusz)</text></g>
<g id="R2" class="gy"><path class="t" d="M892 134.5H951"/><text x="896" y="132.5">Podstawowe zasady</text><circle cx="951" cy="134.5" r="2.4"/></g>
<g id="R2a" class="ol"><path d="M980 110.2H1022"/><text x="983" y="108.2">Cnoty stoickie</text><circle cx="1022" cy="110.2" r="2.4"/></g>
<g id="R2a1" class="cy"><path d="M1051 96H1082"/><text x="1054" y="94">Mądrość</text></g>
<g id="R2a2" class="bl"><path d="M1051 105H1080"/><text x="1054" y="103">Odwaga</text></g>
<g id="R2a3" class="or"><path d="M1051 114H1099"/><text x="1054" y="112">Sprawiedliwość</text></g>
<g id="R2a4" class="pu"><path d="M1051 123H1073"/><text x="1054" y="121">Umiar</text></g>
<g id="R2b" class="br"><path d="M980 138.8H1037"/><text x="983" y="136.8">Dychotomia kontroli</text><circle cx="1037" cy="138.8" r="2.4"/></g>
<g id="R2b1" class="pk"><path d="M1066 134H1162"/><text x="1069" y="132">Rzeczy, które możemy kontrolować</text></g>
<g id="R2b2" class="gy"><path d="M1066 143H1179"/><text x="1069" y="141">Rzeczy, których nie możemy kontrolować</text></g>
<g id="R2c" class="pk"><path d="M980 158.8H1044"/><text x="983" y="156.8">Życie zgodne z naturą</text><circle cx="1044" cy="158.8" r="2.4"/></g>
<g id="R2c1" class="gy"><path d="M1073 153.5H1095"/><text x="1076" y="151.5">Rozum</text></g>
<g id="R2c2" class="ol"><path d="M1073 162.5H1148"/><text x="1076" y="160.5">Akceptacja rzeczywistości</text></g>
<g id="R3" class="gy"><path class="t" d="M892 198.6H940"/><text x="896" y="196.6">Praktyki stoickie</text><circle cx="940" cy="198.6" r="2.4"/></g>
<g id="R3a" class="ol"><path d="M969 178.8H1002"/><text x="972" y="176.8">Medytacje</text><circle cx="1002" cy="178.8" r="2.4"/></g>
<g id="R3a1" class="cy"><path d="M1030 173.5H1113"/><text x="1033" y="171.5">Poranne i wieczorne refleksje</text></g>
<g id="R3a2" class="bl"><path d="M1030 182.5H1099"/><text x="1033" y="180.5">Negatywna wizualizacja</text></g>
<g id="R3b" class="or"><path d="M969 198.8H1014"/><text x="972" y="196.8">Dziennikarstwo</text><circle cx="1014" cy="198.8" r="2.4"/></g>
<g id="R3b1" class="gr"><path d="M1042 193H1108"/><text x="1045" y="191">Prowadzenie dziennika</text></g>
<g id="R3b2" class="rd"><path d="M1042 202.5H1129"/><text x="1045" y="200.5">Analiza własnych myśli i działań</text></g>
<g id="R3c" class="ol"><path d="M969 218.4H1020"/><text x="972" y="216.4">Trening umysłowy</text><circle cx="1020" cy="218.4" r="2.4"/></g>
<g id="R3c1" class="cy"><path d="M1049 213.5H1192"/><text x="1052" y="211.5">Pre-meditatio malorum (przygotowanie na najgorsze)</text></g>
<g id="R3c2" class="bl"><path d="M1049 222.5H1172"/><text x="1052" y="220.5">Dobrowolne dyskomforty (trening odporności)</text></g>
<g id="R4" class="or"><path class="t" d="M892 258H936"/><text x="896" y="256">Stoickie teksty</text><circle cx="936" cy="258" r="2.4"/></g>
<g id="R4a" class="gr"><path d="M964 238H1047"/><text x="967" y="236">"Medytacje" Marka Aureliusza</text><circle cx="1047" cy="238" r="2.4"/></g>
<g id="R4a1" class="rd"><path d="M1075 233H1146"/><text x="1078" y="231">Główne tematy i refleksje</text></g>
<g id="R4a2" class="pu"><path d="M1075 241.5H1137"/><text x="1078" y="239.5">Fragmenty do analizy</text></g>
<g id="R4b" class="br"><path d="M964 257.6H1064"/><text x="967" y="255.6">"Listy moralne do Lucyliusza" Seneki</text><circle cx="1064" cy="257.6" r="2.4"/></g>
<g id="R4b1" class="pk"><path d="M1093 252.5H1164"/><text x="1096" y="250.5">Główne tematy i refleksje</text></g>
<g id="R4b2" class="gy"><path d="M1093 261.5H1156"/><text x="1096" y="259.5">Fragmenty do analizy</text></g>
<g id="R4c" class="ol"><path d="M964 277.5H1018"/><text x="967" y="275.5">"Diatryby" Epikteta</text><circle cx="1018" cy="277.5" r="2.4"/></g>
<g id="R4c1" class="cy"><path d="M1046 272.5H1118"/><text x="1049" y="270.5">Główne tematy i refleksje</text></g>
<g id="R4c2" class="bl"><path d="M1046 281H1108"/><text x="1049" y="279">Fragmenty do analizy</text></g>
<g id="R5" class="or"><path class="t" d="M892 319.2H968"/><text x="896" y="317.2">Stoicyzm a współczesność</text><circle cx="968" cy="319.2" r="2.4"/></g>
<g id="R5a" class="gr"><path d="M997 297H1063"/><text x="1000" y="295">Stoicyzm w psychologii</text><circle cx="1063" cy="297" r="2.4"/></g>
<g id="R5a1" class="rd"><path d="M1092 292.5H1203"/><text x="1095" y="290.5">Terapia poznawczo-behawioralna (CBT)</text></g>
<g id="R5a2" class="pu"><path d="M1092 301H1127"/><text x="1095" y="299">Mindfulness</text></g>
<g id="R5b" class="br"><path d="M997 317H1055"/><text x="1000" y="315">Stoicyzm w biznesie</text><circle cx="1055" cy="317" r="2.4"/></g>
<g id="R5b1" class="pk"><path d="M1084 311.5H1167"/><text x="1087" y="309.5">Decyzje oparte na wartościach</text></g>
<g id="R5b2" class="gy"><path d="M1084 321H1172"/><text x="1087" y="319">Zarządzanie stresem i kryzysami</text></g>
<g id="R5c" class="ol"><path d="M997 341.3H1080"/><text x="1000" y="339.3">Stoicyzm w codziennym życiu</text><circle cx="1080" cy="341.3" r="2.4"/></g>
<g id="R5c1" class="cy"><path d="M1109 331.5H1176"/><text x="1112" y="329.5">Relacje interpersonalne</text></g>
<g id="R5c2" class="bl"><path d="M1109 340H1149"/><text x="1112" y="338">Praca i kariera</text></g>
<g id="R5c3" class="or"><path d="M1109 349.5H1167"/><text x="1112" y="347.5">Zdrowie i dobrostan</text></g>
<g id="R6" class="gr"><path class="t" d="M892 375.6H966"/><text x="896" y="373.6">Krytyka i rozwój stoicyzmu</text><circle cx="966" cy="375.6" r="2.4"/></g>
<g id="R6a" class="rd"><path d="M995 365.5H1069"/><text x="998" y="363.5">Współczesna interpretacja</text><circle cx="1069" cy="365.5" r="2.4"/></g>
<g id="R6a1" class="pu"><path d="M1098 360.5H1289"/><text x="1101" y="358.5">Nowoczesne książki o stoicyzmie (np. "The Daily Stoic" Ryana Holidaya)</text></g>
<g id="R6a2" class="br"><path d="M1098 370H1240"/><text x="1101" y="368">Stoicyzm na platformach online (np. blogi, podcasty)</text></g>
<g id="R6b" class="pk"><path d="M995 385H1035"/><text x="998" y="383">Kontrowersje</text><circle cx="1035" cy="385" r="2.4"/></g>
<g id="R6b1" class="gy"><path d="M1064 380.5H1119"/><text x="1067" y="378.5">Stoicyzm a emocje</text></g>
<g id="R6b2" class="ol"><path d="M1064 389.5H1147"/><text x="1067" y="387.5">Stoicyzm a determinacja losu</text></g>
<g id="R7" class="cy"><path class="t" d="M892 434.2H948"/><text x="896" y="432.2">Narzędzia i zasoby</text><circle cx="948" cy="434.2" r="2.4"/></g>
<g id="R7a" class="bl"><path d="M977 409.3H1001"/><text x="980" y="407.3">Książki</text><circle cx="1001" cy="409.3" r="2.4"/></g>
<g id="R7a1" class="or"><path d="M1030 400H1113"/><text x="1033" y="398">"Medytacje" Marka Aureliusza</text></g>
<g id="R7a2" class="gr"><path d="M1030 409H1131"/><text x="1033" y="407">"Listy moralne do Lucyliusza" Seneki</text></g>
<g id="R7a3" class="rd"><path d="M1030 417.5H1082"/><text x="1033" y="415.5">"Diatryby" Epikteta</text></g>
<g id="R7b" class="pu"><path d="M977 433.8H1027"/><text x="980" y="431.8">Kursy i programy</text><circle cx="1027" cy="433.8" r="2.4"/></g>
<g id="R7b1" class="br"><path d="M1056 429H1145"/><text x="1059" y="427">Kursy online (Coursera, Udemy)</text></g>
<g id="R7b2" class="pk"><path d="M1056 438H1123"/><text x="1059" y="436">Programy coachingowe</text></g>
<g id="R7c" class="gy"><path d="M977 458.2H1017"/><text x="980" y="456.2">Społeczności</text><circle cx="1017" cy="458.2" r="2.4"/></g>
<g id="R7c1" class="ol"><path d="M1046 449H1096"/><text x="1049" y="447">Fora internetowe</text></g>
<g id="R7c2" class="cy"><path d="M1046 458H1108"/><text x="1049" y="456">Grupy na Facebooku</text></g>
<g id="R7c3" class="bl"><path d="M1046 466.5H1127"/><text x="1049" y="464.5">Lokalne meetupy i warsztaty</text></g>
<g id="R8" class="or"><path class="t" d="M892 513.2H991"/><text x="896" y="511.2">Implementacja w życiu codziennym</text><circle cx="991" cy="513.2" r="2.4"/></g>
<g id="R8a" class="gr"><path d="M1019 487H1075"/><text x="1022" y="485">Codzienne praktyki</text><circle cx="1075" cy="487" r="2.4"/></g>
<g id="R8a1" class="rd"><path d="M1104 477.5H1160"/><text x="1107" y="475.5">Poranne medytacje</text></g>
<g id="R8a2" class="pu"><path d="M1104 486.5H1161"/><text x="1107" y="484.5">Wieczorne refleksje</text></g>
<g id="R8a3" class="br"><path d="M1104 495.5H1198"/><text x="1107" y="493.5">Regularne prowadzenie dziennika</text></g>
<g id="R8b" class="pk"><path d="M1019 515.6H1066"/><text x="1022" y="513.6">Trudne sytuacje</text><circle cx="1066" cy="515.6" r="2.4"/></g>
<g id="R8b1" class="gy"><path d="M1095 506H1154"/><text x="1098" y="504">Zarządzanie stresem</text></g>
<g id="R8b2" class="ol"><path d="M1095 515H1156"/><text x="1098" y="513">Akceptacja trudności</text></g>
<g id="R8b3" class="cy"><path d="M1095 524H1172"/><text x="1098" y="522">Działanie zgodne z cnotami</text></g>
<g id="R8c" class="bl"><path d="M1019 540.2H1065"/><text x="1022" y="538.2">Cele i aspiracje</text><circle cx="1065" cy="540.2" r="2.4"/></g>
<g id="R8c1" class="or"><path d="M1094 535H1196"/><text x="1097" y="533">Ustalanie celów zgodnych z cnotami</text></g>
<g id="R8c2" class="gr"><path d="M1094 543.5H1178"/><text x="1097" y="541.5">Długoterminowa perspektywa</text></g>
<g id="R9" class="rd"><path class="t" d="M892 579.8H948"/><text x="896" y="577.8">Dodatkowe zasoby</text><circle cx="948" cy="579.8" r="2.4"/></g>
<g id="R9a" class="pu"><path d="M977 559.8H1031"/><text x="980" y="557.8">Strony internetowe</text><circle cx="1031" cy="559.8" r="2.4"/></g>
<g id="R9a1" class="br"><path d="M1060 555H1106"/><text x="1063" y="553">The Daily Stoic</text></g>
<g id="R9a2" class="pk"><path d="M1060 563.5H1109"/><text x="1063" y="561.5">Modern Stoicism</text></g>
<g id="R9b" class="gy"><path d="M977 579.6H1028"/><text x="980" y="577.6">Aplikacje mobilne</text><circle cx="1028" cy="579.6" r="2.4"/></g>
<g id="R9b1" class="ol"><path d="M1057 574.5H1077"/><text x="1060" y="572.5">Stoic</text></g>
<g id="R9b2" class="cy"><path d="M1057 583.5H1091"/><text x="1060" y="581.5">Daily Stoic</text></g>
<g id="R9c" class="bl"><path d="M977 599.8H1023"/><text x="980" y="597.8">Podcasty i filmy</text><circle cx="1023" cy="599.8" r="2.4"/></g>
<g id="R9c1" class="or"><path d="M1052 594.5H1106"/><text x="1055" y="592.5">The Stoic Podcast</text></g>
<g id="R9c2" class="gr"><path d="M1052 603.5H1143"/><text x="1055" y="601.5">Filmy dokumentalne o stoicyzmie</text></g>
</g>
</svg>
